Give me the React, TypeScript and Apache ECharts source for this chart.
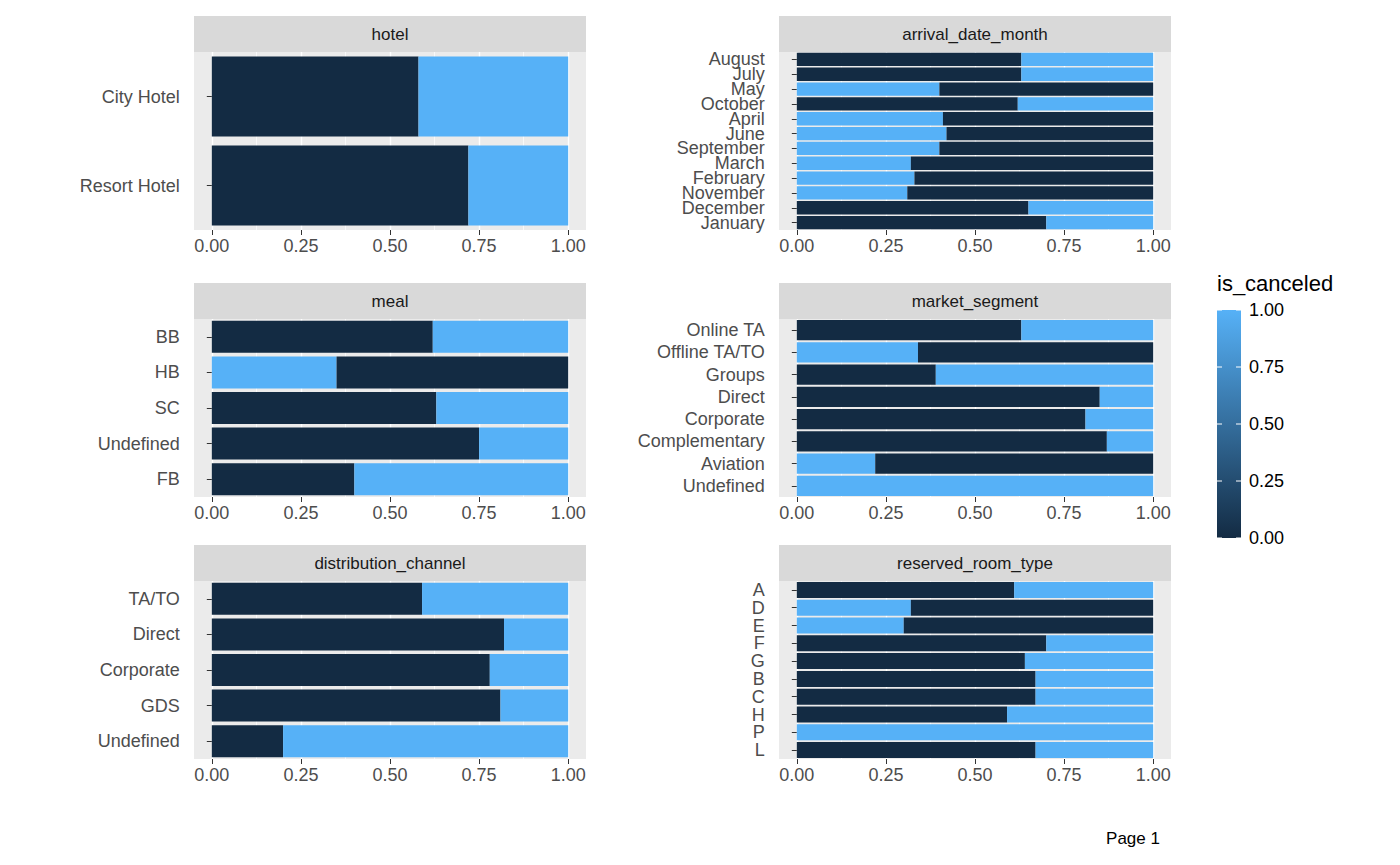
import React, { useEffect, useRef } from "react";
import * as echarts from "echarts";

const DARK = "#132B43";
const LIGHT = "#56B1F7";

// each bar: left segment share, and whether the left segment is the dark (0) group
const hotelCats = ["City Hotel", "Resort Hotel"];
const hotelLeft = [0.58, 0.72];
const hotelDark = [true, true];

const monthCats = ["August", "July", "May", "October", "April", "June", "September", "March", "February", "November", "December", "January"];
const monthLeft = [0.63, 0.63, 0.4, 0.62, 0.41, 0.42, 0.4, 0.32, 0.33, 0.31, 0.65, 0.7];
const monthDark = [true, true, false, true, false, false, false, false, false, false, true, true];

const mealCats = ["BB", "HB", "SC", "Undefined", "FB"];
const mealLeft = [0.62, 0.35, 0.63, 0.75, 0.4];
const mealDark = [true, false, true, true, true];

const marketCats = ["Online TA", "Offline TA/TO", "Groups", "Direct", "Corporate", "Complementary", "Aviation", "Undefined"];
const marketLeft = [0.63, 0.34, 0.39, 0.85, 0.81, 0.87, 0.22, 1.0];
const marketDark = [true, false, true, true, true, true, false, false];

const distCats = ["TA/TO", "Direct", "Corporate", "GDS", "Undefined"];
const distLeft = [0.59, 0.82, 0.78, 0.81, 0.2];
const distDark = [true, true, true, true, true];

const roomCats = ["A", "D", "E", "F", "G", "B", "C", "H", "P", "L"];
const roomLeft = [0.61, 0.32, 0.3, 0.7, 0.64, 0.67, 0.67, 0.59, 1.0, 0.67];
const roomDark = [true, false, false, true, true, true, true, true, false, true];

const legendTicks = ["1.00", "0.75", "0.50", "0.25", "0.00"];

const panels = [
  { title: "hotel", cats: hotelCats, left: hotelLeft, dark: hotelDark, x: 194, y: 16 },
  { title: "arrival_date_month", cats: monthCats, left: monthLeft, dark: monthDark, x: 779, y: 16 },
  { title: "meal", cats: mealCats, left: mealLeft, dark: mealDark, x: 194, y: 283 },
  { title: "market_segment", cats: marketCats, left: marketLeft, dark: marketDark, x: 779, y: 283 },
  { title: "distribution_channel", cats: distCats, left: distLeft, dark: distDark, x: 194, y: 545 },
  { title: "reserved_room_type", cats: roomCats, left: roomLeft, dark: roomDark, x: 779, y: 545 },
];

const PW = 392;
const STRIP = 36;
const PH = 178;
const FONT = "Liberation Sans, Arial, sans-serif";

export default function App() {
  const ref = useRef<HTMLDivElement>(null);

  useEffect(() => {
    document.body.style.margin = "0";
    const chart = echarts.init(ref.current!, null, { renderer: "svg" });
    const grid: any[] = [];
    const xAxis: any[] = [];
    const yAxis: any[] = [];
    const series: any[] = [];
    const graphic: any[] = [];

    panels.forEach((p, i) => {
      const x0 = p.x + PW * 0.05 / 1.1;
      const w = PW / 1.1;
      const top = p.y + STRIP;
      graphic.push(
        { type: "rect", z: -10, shape: { x: p.x, y: p.y, width: PW, height: STRIP }, style: { fill: "#D9D9D9" } },
        { type: "rect", z: -10, shape: { x: p.x, y: top, width: PW, height: PH }, style: { fill: "#EBEBEB" } },
        {
          type: "text", z: 10, x: p.x + PW / 2, y: p.y + STRIP / 2,
          style: { text: p.title, fill: "#1A1A1A", font: `17px ${FONT}`, align: "center", verticalAlign: "middle" },
        }
      );
      grid.push({ left: x0, top, width: w, height: PH });
      xAxis.push({
        type: "value", gridIndex: i, min: 0, max: 1, interval: 0.25,
        axisLine: { show: false },
        axisTick: { show: true, length: 5, lineStyle: { color: "#333" } },
        axisLabel: { formatter: (v: number) => v.toFixed(2), color: "#4D4D4D", fontSize: 18, fontFamily: FONT, margin: 7 },
        splitLine: { show: true, lineStyle: { color: "#fff", width: 1.4 } },
        minorTick: { show: false, splitNumber: 2 },
        minorSplitLine: { show: true, lineStyle: { color: "#fff", width: 0.7 } },
      });
      yAxis.push({
        type: "category", gridIndex: i, data: p.cats, inverse: true,
        axisLine: { show: false },
        axisTick: { show: true, alignWithLabel: true, length: 5, lineStyle: { color: "#333" } },
        axisLabel: { color: "#4D4D4D", fontSize: 18, fontFamily: FONT, margin: 32, interval: 0 },
        splitLine: { show: false },
      });
      series.push(
        {
          type: "bar", xAxisIndex: i, yAxisIndex: i, stack: "s" + i, barWidth: "90%",
          data: p.left.map((v, k) => ({ value: v, itemStyle: { color: p.dark[k] ? DARK : LIGHT } })),
        },
        {
          type: "bar", xAxisIndex: i, yAxisIndex: i, stack: "s" + i, barWidth: "90%",
          data: p.left.map((v, k) => ({ value: +(1 - v).toFixed(3), itemStyle: { color: p.dark[k] ? LIGHT : DARK } })),
        }
      );
    });

    // colour bar legend
    const lx = 1217, ly = 310, lh = 228;
    graphic.push(
      { type: "text", x: lx, y: 283, style: { text: "is_canceled", fill: "#000", font: `22px ${FONT}`, verticalAlign: "middle" } },
      {
        type: "rect", shape: { x: lx, y: ly, width: 24, height: lh },
        style: {
          fill: new echarts.graphic.LinearGradient(0, 0, 0, 1, [
            { offset: 0, color: LIGHT },
            { offset: 1, color: DARK },
          ]),
        },
      }
    );
    legendTicks.forEach((t, k) => {
      const yy = ly + (lh * k) / (legendTicks.length - 1);
      graphic.push(
        { type: "line", shape: { x1: lx, y1: yy, x2: lx + 5, y2: yy }, style: { stroke: "#fff", lineWidth: 1 } },
        { type: "line", shape: { x1: lx + 19, y1: yy, x2: lx + 24, y2: yy }, style: { stroke: "#fff", lineWidth: 1 } },
        { type: "text", x: lx + 32, y: yy, style: { text: t, fill: "#000", font: `18px ${FONT}`, verticalAlign: "middle" } }
      );
    });
    graphic.push({ type: "text", x: 1133, y: 838, style: { text: "Page 1", fill: "#000", font: `17px ${FONT}`, align: "center", verticalAlign: "middle" } });

    chart.setOption({ animation: false, backgroundColor: "#fff", grid, xAxis, yAxis, series, graphic });
    return () => chart.dispose();
  }, []);

  return <div ref={ref} style={{ width: 1400, height: 865 }} />;
}
